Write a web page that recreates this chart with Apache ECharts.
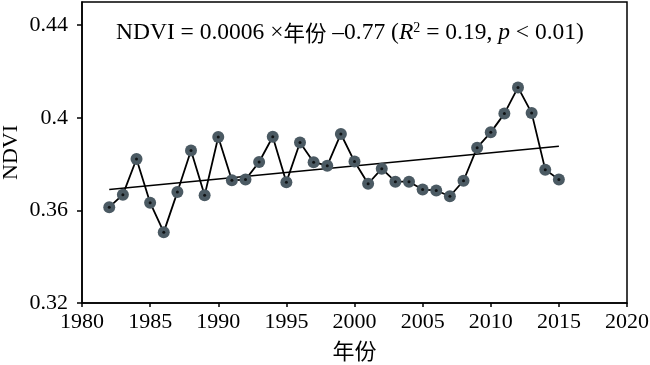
<!DOCTYPE html>
<html><head><meta charset="utf-8">
<script src="https://cdn.jsdelivr.net/npm/echarts@6/dist/echarts.min.js"></script>
<style>html,body{margin:0;padding:0;background:#fff}#c{width:650px;height:365px}</style>
</head><body><div id="c"></div>
<script>
const years = [1982,1983,1984,1985,1986,1987,1988,1989,1990,1991,1992,1993,1994,1995,1996,1997,1998,1999,2000,2001,2002,2003,2004,2005,2006,2007,2008,2009,2010,2011,2012,2013,2014,2015];
const ndvi = [0.3614,0.3668,0.3822,0.3633,0.3506,0.3679,0.3859,0.3665,0.3917,0.3730,0.3733,0.3809,0.3918,0.3722,0.3893,0.3808,0.3793,0.3930,0.3811,0.3715,0.3780,0.3724,0.3724,0.3690,0.3686,0.3661,0.3728,0.3871,0.3937,0.4018,0.4131,0.4021,0.3776,0.3733];
const trendYears = [1982, 2015];
const trendValues = [0.3690, 0.3877];
const yTicks = [0.32, 0.36, 0.4, 0.44];

const serif = '"Liberation Serif", "Times New Roman", "Noto Sans CJK SC", serif';
const pts = years.map((y, i) => [y, ndvi[i]]);
const trend = trendYears.map((y, i) => [y, trendValues[i]]);

const chart = echarts.init(document.getElementById('c'), null, {renderer: 'canvas'});
chart.setOption({
  animation: false,
  backgroundColor: '#fff',
  title: {
    text: '{n|NDVI = 0.0006 ×}{c|年份}{n| –0.77 (}{i|R}{s|2}{n| = 0.19, }{i|p}{n| < 0.01)}',
    left: 111, top: 16,
    textStyle: {
      fontWeight: 'normal',
      rich: {
        n: {fontFamily: serif, fontSize: 23.5, fontWeight: 'normal', color: '#000'},
        c: {fontFamily: '"Noto Sans CJK SC"', fontSize: 21.5, fontWeight: 'normal', color: '#000'},
        i: {fontFamily: serif, fontSize: 23.5, fontWeight: 'normal', fontStyle: 'italic', color: '#000'},
        s: {fontFamily: serif, fontSize: 14, fontWeight: 'normal', color: '#000', verticalAlign: 'top', padding: [0,0,9,0]}
      }
    }
  },
  grid: {left: 82, right: 23, top: 2, bottom: 62, show: true, borderColor: '#000', borderWidth: 1.5, containLabel: false, outerBoundsMode: 'none'},
  xAxis: {
    type: 'value', min: 1980, max: 2020, interval: 5,
    name: '年份', nameLocation: 'middle', nameGap: 37, nameMoveOverlap: false,
    nameTextStyle: {fontFamily: '"Noto Sans CJK SC"', fontSize: 22, color: '#000'},
    axisLine: {show: true, lineStyle: {color: '#000', width: 1.5}},
    axisTick: {show: true, inside: false, length: 4, lineStyle: {color: '#000', width: 1.5}},
    axisLabel: {fontFamily: serif, fontSize: 22, color: '#000', margin: 8, formatter: v => String(v)},
    splitLine: {show: false}
  },
  yAxis: {
    type: 'value', min: 0.32, max: 0.45,
    name: 'NDVI', nameLocation: 'middle', nameGap: 60, nameRotate: 90, nameMoveOverlap: false,
    nameTextStyle: {fontFamily: serif, fontSize: 22, color: '#000'},
    axisLine: {show: true, lineStyle: {color: '#000', width: 1.5}},
    axisTick: {show: true, inside: false, length: 5, customValues: yTicks, lineStyle: {color: '#000', width: 1.5}},
    axisLabel: {fontFamily: serif, fontSize: 22, color: '#000', margin: 14, customValues: yTicks},
    splitLine: {show: false}
  },
  series: [
    {type: 'line', data: trend, symbol: 'none', lineStyle: {color: '#000', width: 1.5}, z: 1},
    {type: 'line', data: pts, symbol: 'circle', symbolSize: 12,
     itemStyle: {color: '#4b5a63'}, lineStyle: {color: '#000', width: 1.8}, z: 2},
    {type: 'scatter', data: pts, symbol: 'circle', symbolSize: 3, itemStyle: {color: '#000'}, z: 3}
  ]
});
</script></body></html>
